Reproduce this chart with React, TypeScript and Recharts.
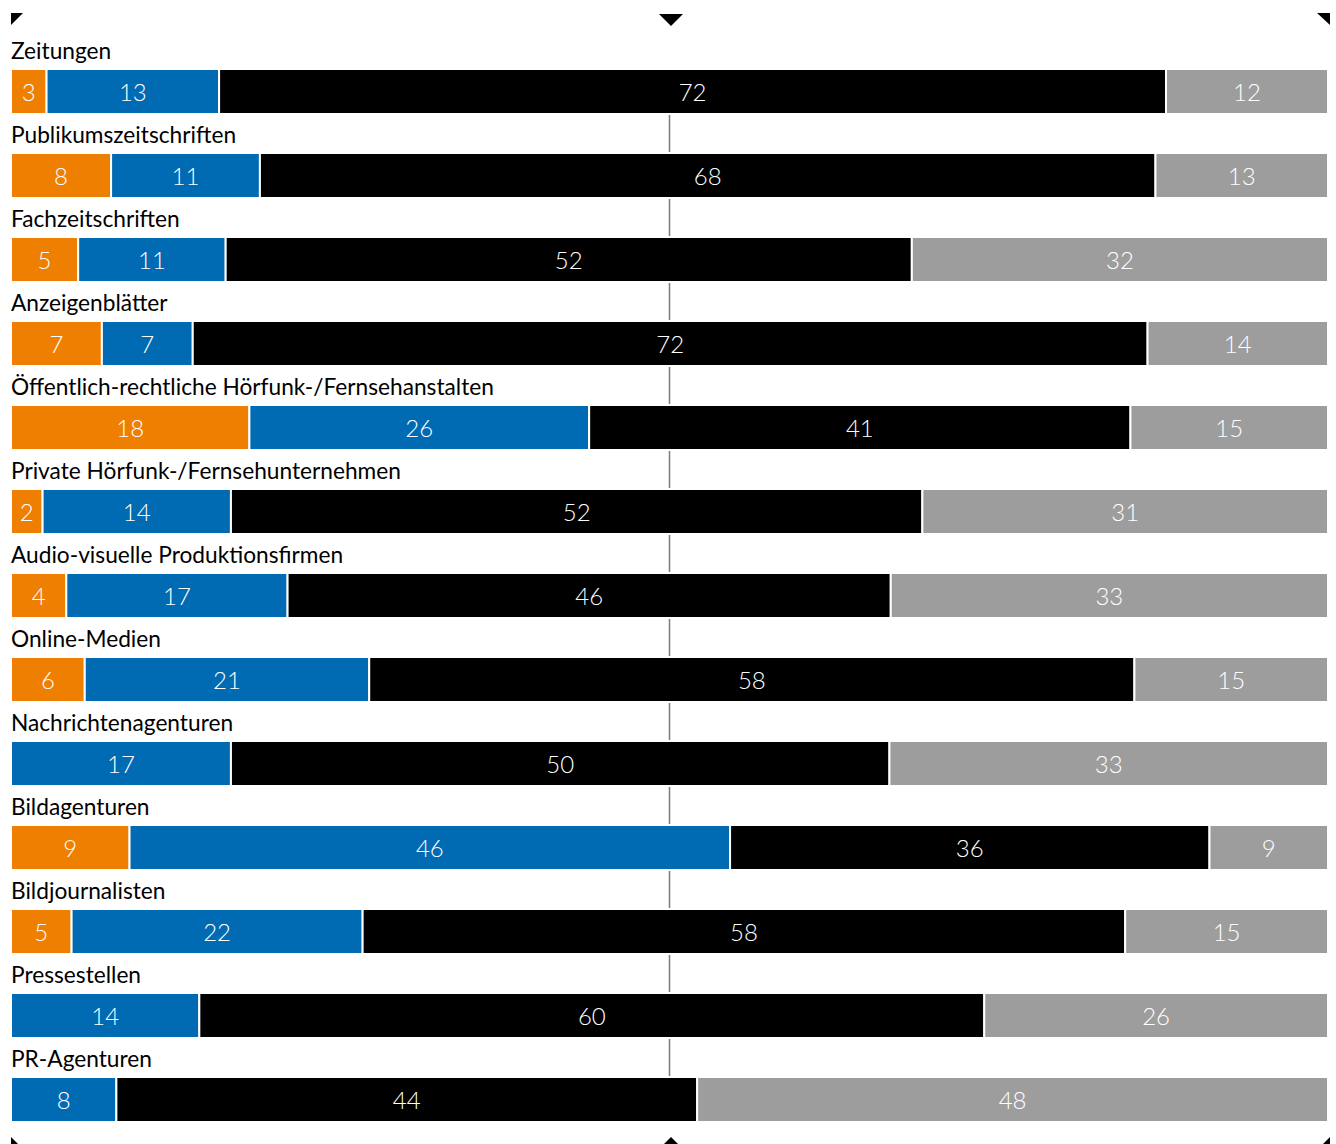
import React from 'react';
import {
  BarChart,
  Bar,
  XAxis,
  YAxis,
  ReferenceLine,
  LabelList,
} from 'recharts';

// Categories, top to bottom
const categories = [
  'Zeitungen',
  'Publikumszeitschriften',
  'Fachzeitschriften',
  'Anzeigenblätter',
  'Öffentlich-rechtliche Hörfunk-/Fernsehanstalten',
  'Private Hörfunk-/Fernsehunternehmen',
  'Audio-visuelle Produktionsfirmen',
  'Online-Medien',
  'Nachrichtenagenturen',
  'Bildagenturen',
  'Bildjournalisten',
  'Pressestellen',
  'PR-Agenturen',
];

// Segment widths in percent
const orangeValues = [2.7, 7.6, 5.1, 6.9, 18.1, 2.4, 4.2, 5.6, 0, 9.0, 4.6, 0, 0];
const blueValues = [13.1, 11.3, 11.2, 6.9, 25.8, 14.3, 16.8, 21.6, 16.7, 45.6, 22.1, 14.3, 8.0];
const blackValues = [71.9, 68.0, 52.1, 72.5, 41.1, 52.5, 45.8, 58.1, 50.0, 36.4, 57.9, 59.6, 44.1];
const grayValues = [12.3, 13.1, 31.6, 13.7, 15.0, 30.8, 33.2, 14.7, 33.3, 9.0, 15.4, 26.1, 47.9];

// Printed labels
const orangeLabels = [3, 8, 5, 7, 18, 2, 4, 6, 0, 9, 5, 0, 0];
const blueLabels = [13, 11, 11, 7, 26, 14, 17, 21, 17, 46, 22, 14, 8];
const blackLabels = [72, 68, 52, 72, 41, 52, 46, 58, 50, 36, 58, 60, 44];
const grayLabels = [12, 13, 32, 14, 15, 31, 33, 15, 33, 9, 15, 26, 48];

const COLORS = {
  orange: '#ee7f00',
  blue: '#006ab3',
  black: '#000000',
  gray: '#9d9d9d',
};

const FONT = 'Lato, "Noto Sans", sans-serif';

const data = categories.map((name, i) => ({
  name,
  orange: orangeValues[i],
  blue: blueValues[i],
  black: blackValues[i],
  gray: grayValues[i],
  orangeLabel: orangeLabels[i],
  blueLabel: blueLabels[i],
  blackLabel: blackLabels[i],
  grayLabel: grayLabels[i],
}));

function CategoryTick(props: any) {
  const { y, payload } = props;
  return (
    <text
      x={11}
      y={y - 32}
      fill="#000"
      fontSize={22.7}
      fontFamily={FONT}
      textAnchor="start"
    >
      {payload.value}
    </text>
  );
}

function SegmentLabel(props: any) {
  const { x, y, width, height, value } = props;
  if (!value) return null;
  return (
    <text
      x={x + width / 2}
      y={y + height / 2}
      fill="#fff"
      fontSize={24}
      fontWeight={300}
      fontFamily={FONT}
      textAnchor="middle"
      dominantBaseline="central"
    >
      {value}
    </text>
  );
}

function CropMarks() {
  return (
    <svg
      width={1336}
      height={1144}
      style={{ position: 'absolute', left: 0, top: 0, pointerEvents: 'none' }}
    >
      <polygon points="11,13 23,13 11,25" fill="#000" />
      <polygon points="659,14 683,14 671,26" fill="#000" />
      <polygon points="1317,13 1330,13 1330,25" fill="#000" />
      <polygon points="11,1137 11,1149 23,1149" fill="#000" />
      <polygon points="659,1149 683,1149 671,1137" fill="#000" />
      <polygon points="1330,1137 1330,1149 1318,1149" fill="#000" />
    </svg>
  );
}

export default function App() {
  return (
    <div style={styles.page}>
      <BarChart
        width={1336}
        height={1144}
        data={data}
        layout="vertical"
        margin={{ top: 49, right: 8, left: 0, bottom: 3 }}
        barSize={45}
      >
        <XAxis type="number" domain={[0, 100]} hide />
        <YAxis
          type="category"
          dataKey="name"
          width={11}
          axisLine={false}
          tickLine={false}
          tick={CategoryTick}
          interval={0}
        />
        <ReferenceLine
          segment={[
            { x: 50, y: categories[0] },
            { x: 50, y: categories[categories.length - 1] },
          ]}
          stroke="#7a7a7a"
          strokeWidth={1.5}
          zIndex={100}
        />
        <Bar dataKey="orange" stackId="a" fill={COLORS.orange} stroke="#fff" strokeWidth={2} isAnimationActive={false}>
          <LabelList dataKey="orangeLabel" content={<SegmentLabel />} />
        </Bar>
        <Bar dataKey="blue" stackId="a" fill={COLORS.blue} stroke="#fff" strokeWidth={2} isAnimationActive={false}>
          <LabelList dataKey="blueLabel" content={<SegmentLabel />} />
        </Bar>
        <Bar dataKey="black" stackId="a" fill={COLORS.black} stroke="#fff" strokeWidth={2} isAnimationActive={false}>
          <LabelList dataKey="blackLabel" content={<SegmentLabel />} />
        </Bar>
        <Bar dataKey="gray" stackId="a" fill={COLORS.gray} stroke="#fff" strokeWidth={2} isAnimationActive={false}>
          <LabelList dataKey="grayLabel" content={<SegmentLabel />} />
        </Bar>
      </BarChart>
      <CropMarks />
    </div>
  );
}

const styles: Record<string, React.CSSProperties> = {
  page: {
    position: 'absolute',
    left: 0,
    top: 0,
    width: 1336,
    height: 1144,
    background: '#fff',
    overflow: 'hidden',
  },
};
